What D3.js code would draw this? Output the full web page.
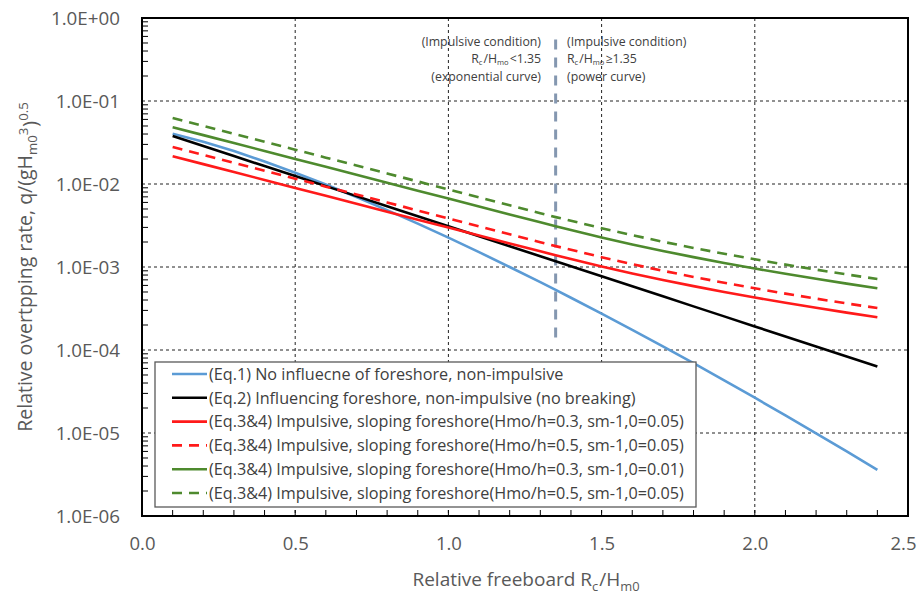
<!DOCTYPE html>
<html><head><meta charset="utf-8">
<script src="https://cdn.jsdelivr.net/npm/d3@7"></script>
<style>
body{margin:0;background:#fff}
text{font-family:'Open Sans',sans-serif}
</style>
</head><body>
<svg id="chart" width="920" height="595"></svg>
<script>
// ---- data ----
const freeboard = [0.1,0.2,0.3,0.4,0.5,0.6,0.7,0.8,0.9,1.0,1.1,1.2,1.3,1.35,1.4,1.5,1.6,1.7,1.8,1.9,2.0,2.1,2.2,2.3,2.4];
const eq1NoForeshore = [0.040364,0.032311,0.024911,0.018680,0.013693,0.0098465,0.0069607,0.0048462,0.0033272,0.0022555,0.0015110,0.0010011,0.00065636,0.00052964,0.00042613,0.00027416,0.00017475,0.00011047,0.000069273,0.000043090,0.000026604,0.000016294,0.0000099217,0.0000059972,0.0000036027];
const eq2Foreshore = [0.037865,0.028675,0.021715,0.016445,0.012454,0.0094313,0.0071424,0.0054090,0.0040963,0.0031020,0.0023492,0.0017790,0.0013472,0.0011723,0.0010202,0.00077262,0.00058510,0.00044310,0.00033555,0.00025411,0.00019244,0.00014573,0.00011036,0.000083577,0.000063292];
const imp03s005 = [0.021623,0.017353,0.013926,0.011176,0.0089689,0.0071978,0.0057763,0.0046354,0.0037202,0.0029854,0.0023959,0.0019227,0.0015431,0.0013822,0.0012497,0.0010161,0.00083723,0.00069800,0.00058802,0.00049996,0.00042866,0.00037030,0.00032205,0.00028185,0.00024807];
const imp05s005 = [0.027915,0.022403,0.017978,0.014428,0.011579,0.0092922,0.0074572,0.0059843,0.0048027,0.0038541,0.0030931,0.0024822,0.0019921,0.0017844,0.0016134,0.0013118,0.0010809,0.00090111,0.00075913,0.00064544,0.00055340,0.00047805,0.00041576,0.00036387,0.00032025];
const imp03s001 = [0.048351,0.038803,0.031140,0.024991,0.020055,0.016095,0.012916,0.010365,0.0083186,0.0066756,0.0053574,0.0042993,0.0034505,0.0030907,0.0027945,0.0022721,0.0018721,0.0015608,0.0013149,0.0011179,0.00095851,0.00082801,0.00072012,0.00063024,0.00055470];
const imp05s001 = [0.062420,0.050094,0.040201,0.032262,0.025891,0.020778,0.016675,0.013381,0.010739,0.0086181,0.0069164,0.0055503,0.0044545,0.0039901,0.0036076,0.0029332,0.0024169,0.0020149,0.0016975,0.0014433,0.0012374,0.0010690,0.00092968,0.00081364,0.00071611];
const legendLabels = [
  "(Eq.1) No influecne of foreshore, non-impulsive",
  "(Eq.2) Influencing foreshore, non-impulsive (no breaking)",
  "(Eq.3&4) Impulsive, sloping foreshore(Hmo/h=0.3, sm-1,0=0.05)",
  "(Eq.3&4) Impulsive, sloping foreshore(Hmo/h=0.5, sm-1,0=0.05)",
  "(Eq.3&4) Impulsive, sloping foreshore(Hmo/h=0.3, sm-1,0=0.01)",
  "(Eq.3&4) Impulsive, sloping foreshore(Hmo/h=0.5, sm-1,0=0.05)"
];
const xTicks = [0, 0.5, 1.0, 1.5, 2.0, 2.5];
const yTicks = [1, 1e-1, 1e-2, 1e-3, 1e-4, 1e-5, 1e-6];
const thresholdX = [1.35, 1.35];
const thresholdY = [0.55, 1.2e-4];

// ---- chart ----
const svg = d3.select("#chart");
const L = 142, R = 908, T = 18, B = 516;
const x = d3.scaleLinear().domain([0, 2.5]).range([L, R]);
const y = d3.scaleLog().domain([1e-6, 1]).range([B, T]);

const series = [
  {v: eq1NoForeshore, c: "#5B9BD5", d: null},
  {v: eq2Foreshore, c: "#000000", d: null},
  {v: imp03s005, c: "#FF1A1A", d: null},
  {v: imp05s005, c: "#FF1A1A", d: "10,7"},
  {v: imp03s001, c: "#4E8A2E", d: null},
  {v: imp05s001, c: "#4E8A2E", d: "10,7"}
];

// gridlines
const grid = svg.append("g");
grid.selectAll(".gx").data(xTicks.filter(t => t > 0 && t < 2.5)).join("line")
  .attr("x1", d => x(d)).attr("x2", d => x(d)).attr("y1", T).attr("y2", B)
  .attr("stroke", "#222").attr("stroke-width", 1).attr("stroke-dasharray", "3,3");
grid.selectAll(".gy").data(yTicks.filter(t => t < 1 && t > 1e-6)).join("line")
  .attr("x1", L).attr("x2", R).attr("y1", d => y(d)).attr("y2", d => y(d))
  .attr("stroke", "#222").attr("stroke-width", 1).attr("stroke-dasharray", "3,3");

// minor ticks
const yMinor = [];
for (let e = -6; e < 0; e++) for (let k = 2; k <= 9; k++) yMinor.push(k * Math.pow(10, e));
svg.append("g").selectAll("line").data(yMinor).join("line")
  .attr("x1", L).attr("x2", L + 6).attr("y1", d => y(d)).attr("y2", d => y(d))
  .attr("stroke", "#000").attr("stroke-width", 1);
const xMinor = d3.range(1, 25).map(i => i / 10);
svg.append("g").selectAll("line").data(xMinor).join("line")
  .attr("x1", d => x(d)).attr("x2", d => x(d)).attr("y1", B).attr("y2", B - 6)
  .attr("stroke", "#000").attr("stroke-width", 1);

// axes labels via d3 axes
const fmtY = d => { const e = Math.round(Math.log10(d)); return "1.0E" + (e >= 0 ? "+" : "-") + String(Math.abs(e)).padStart(2, "0"); };
const ya = svg.append("g").attr("transform", `translate(${L},0)`)
  .call(d3.axisLeft(y).tickValues(yTicks).tickFormat(fmtY).tickSize(0).tickPadding(22));
ya.select(".domain").remove();
ya.selectAll("text").attr("font-size", 18.8).attr("fill", "#595959").style("font-family", "'Open Sans',sans-serif");
const xa = svg.append("g").attr("transform", `translate(0,${B})`)
  .call(d3.axisBottom(x).tickValues(xTicks).tickFormat(d3.format(".1f")).tickSize(0).tickPadding(21));
xa.select(".domain").remove();
xa.selectAll("text").attr("font-size", 18.5).attr("fill", "#595959").style("font-family", "'Open Sans',sans-serif")
  .attr("dx", d => d === 2.5 ? -5 : 0);

// threshold line
const line = d3.line().x(d => x(d[0])).y(d => y(d[1]));
svg.append("path").datum(d3.zip(thresholdX, thresholdY)).attr("d", line)
  .attr("fill", "none").attr("stroke", "#8497B0").attr("stroke-width", 3).attr("stroke-dasharray", "10,8");

// series
series.forEach(s => {
  svg.append("path").datum(d3.zip(freeboard, s.v)).attr("d", line)
    .attr("fill", "none").attr("stroke", s.c).attr("stroke-width", 2.6)
    .attr("stroke-dasharray", s.d);
});

// plot border
svg.append("rect").attr("x", L).attr("y", T).attr("width", R - L).attr("height", B - T)
  .attr("fill", "none").attr("stroke", "#000").attr("stroke-width", 2);

// rich text helper
function richLine(g, xPos, yPos, anchor, parts, size, sub, subDy) {
  const ss = sub || 0.62;
  const sd = subDy || 0.25;
  const t = g.append("text").attr("x", xPos).attr("y", yPos).attr("text-anchor", anchor)
    .attr("font-size", size).attr("fill", "#404040");
  parts.forEach(p => {
    const ts = t.append("tspan").text(p[0]);
    if (p[1] === "sub") ts.attr("font-size", size * ss).attr("dy", size * sd);
    if (p[1] === "back") ts.attr("dy", -size * sd).attr("dx", 1);
    if (p[1] === "sup") ts.attr("font-size", size * ss).attr("dy", -size * 0.45);
    if (p[1] === "down") ts.attr("dy", size * 0.45).attr("dx", 1);
  });
  return t;
}
const ann = svg.append("g");
const aSize = 12.3;
richLine(ann, 541, 45.5, "end", [["(Impulsive condition)"]], aSize);
richLine(ann, 541, 63, "end", [["R"], ["c", "sub"], ["/H", "back"], ["mo", "sub"], ["<1.35", "back"]], aSize, 0.62, 0.15);
richLine(ann, 541, 80.5, "end", [["(exponential curve)"]], aSize);
richLine(ann, 567, 45.5, "start", [["(Impulsive condition)"]], aSize);
richLine(ann, 567, 63, "start", [["R"], ["c", "sub"], ["/H", "back"], ["mo", "sub"], ["\u22651.35", "back"]], aSize, 0.62, 0.15);
richLine(ann, 567, 80.5, "start", [["(power curve)"]], aSize);

// axis titles
richLine(svg, 526, 586, "middle", [["Relative freeboard R"], ["c", "sub"], ["/H", "back"], ["m0", "sub"]], 19, 0.68)
  .attr("fill", "#595959");
richLine(svg, 0, 0, "middle", [["Relative overtpping rate, q/(gH"], ["m0", "sub"], ["3", "sup"], [")", "down"], ["0.5", "sup"]], 19.5, 0.68)
  .attr("fill", "#595959").attr("transform", "translate(32,267) rotate(-90)");

// legend
const lg = svg.append("g");
lg.append("rect").attr("x", 155).attr("y", 362).attr("width", 541).attr("height", 145)
  .attr("fill", "#fff").attr("stroke", "#595959").attr("stroke-width", 1.3);
legendLabels.forEach((lab, i) => {
  const yy = 374 + i * 23.8;
  lg.append("line").attr("x1", 172).attr("x2", 207).attr("y1", yy).attr("y2", yy)
    .attr("stroke", series[i].c).attr("stroke-width", 2.6).attr("stroke-dasharray", series[i].d);
  lg.append("text").attr("x", 209).attr("y", yy + 5.8).attr("font-size", 16.2).attr("fill", "#404040").text(lab);
});
</script>
</body></html>
